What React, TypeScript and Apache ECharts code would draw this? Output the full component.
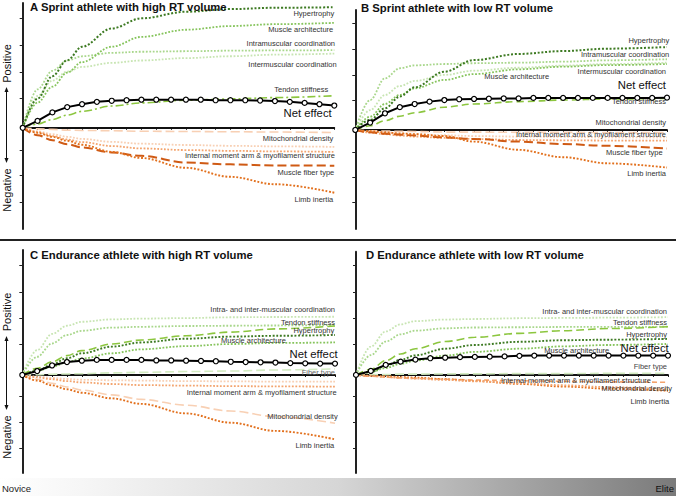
import React, { useEffect, useRef } from "react";
import * as echarts from "echarts";

// ---------- data ----------
const X_SPARSE = [0, 1, 2, 3, 4, 6, 8, 11, 14, 17, 21];
const X_NET = [0, 1, 2, 3, 4, 5, 6, 7, 8, 9, 10, 11, 12, 13, 14, 15, 16, 17, 18, 19, 20, 21];

// A Sprint athlete with high RT volume
const A_HYPERTROPHY = [0, 11.0, 19.5, 25.5, 30.6, 37.5, 41.3, 43.8, 44.8, 45.3, 45.5];
const A_MUSCLE_ARCH = [0, 9.5, 15.5, 20.8, 24.8, 30.6, 34.3, 37.0, 38.4, 39.1, 39.6];
const A_INTRA = [0, 14.5, 21.5, 25.4, 27.0, 28.3, 28.7, 28.9, 29.1, 29.2, 29.3];
const A_INTER = [0, 12.0, 17.8, 21.2, 23.0, 24.5, 25.4, 26.3, 27.0, 27.6, 28.0];
const A_TENDON = [0, 1.4, 3.1, 4.8, 6.2, 8.2, 9.4, 10.4, 10.9, 11.4, 12.1];
const A_NET = [0, 2.6, 5.8, 7.8, 8.9, 9.8, 10.2, 10.4, 10.6, 10.6, 10.6, 10.6, 10.6, 10.4, 10.4, 10.4, 10.3, 10.1, 9.8, 9.4, 8.9, 8.4];
const A_MITO = [0, -0.4, -0.6, -0.9, -1.0, -1.1, -1.3, -1.4, -1.5, -1.6, -1.8];
const A_MOMENT1 = [0, -1.3, -2.4, -3.4, -4.2, -5.3, -6.0, -6.5, -6.8, -7.0, -7.2];
const A_MOMENT2 = [0, -1.6, -3.1, -4.4, -5.4, -6.9, -7.8, -8.4, -8.7, -8.9, -9.1];
const A_FIBER = [0, -2.8, -4.7, -6.2, -7.4, -9.3, -10.6, -13.1, -13.8, -14.2, -14.3];
const A_LIMB = [0, -1.9, -3.4, -4.9, -6.4, -9.1, -11.4, -15.1, -18.5, -21.3, -24.5];

// B Sprint athlete with low RT volume
const B_HYPERTROPHY = [0, 3.8, 8.2, 12.6, 16.1, 22.0, 26.4, 28.7, 29.8, 30.7, 31.3];
const B_INTRA = [0, 11.3, 19.5, 23.3, 24.4, 24.9, 25.2, 25.4, 25.8, 26.3, 26.7];
const B_INTER = [0, 7.5, 13.2, 16.6, 18.5, 20.8, 22.4, 23.5, 24.3, 24.9, 25.4];
const B_MUSCLE_ARCH = [0, 5.0, 9.8, 13.2, 15.7, 18.9, 21.1, 22.9, 23.9, 24.5, 24.9];
const B_TENDON = [0, 1.6, 3.5, 5.2, 6.5, 8.6, 9.8, 10.7, 11.3, 11.7, 11.9];
const B_NET = [0, 2.8, 6.3, 8.6, 9.8, 10.7, 11.3, 11.6, 11.7, 11.8, 11.9, 11.9, 12.1, 12.1, 12.1, 12.1, 12.1, 12.1, 12.1, 12.1, 12.1, 12.2];
const B_MITO = [0, -0.3, -0.4, -0.5, -0.6, -0.8, -0.8, -0.9, -0.9, -1.0, -1.0];
const B_MOMENT1 = [0, -1.0, -1.6, -2.1, -2.5, -3.0, -3.4, -3.8, -3.9, -4.0, -4.0];
const B_MOMENT2 = [0, -0.6, -1.0, -1.4, -1.6, -2.0, -2.3, -2.5, -2.6, -2.8, -2.8];
const B_FIBER = [0, -0.9, -1.4, -1.8, -2.1, -2.8, -3.4, -4.4, -5.3, -6.0, -7.0];
const B_LIMB = [0, -0.5, -0.9, -1.3, -1.6, -2.3, -4.4, -7.5, -10.3, -12.6, -14.2];

// C Endurance athlete with high RT volume
const C_COORD = [0, 9.4, 15.5, 18.6, 20.1, 21.0, 21.3, 21.5, 21.8, 21.9, 22.0];
const C_COORD2 = [0, 6.9, 11.9, 15.1, 16.7, 17.9, 18.2, 18.5, 18.6, 18.7, 18.9];
const C_TENDON = [0, 2.5, 5.0, 7.3, 9.2, 11.7, 13.2, 14.8, 16.2, 17.4, 18.5];
const C_HYPERTROPHY = [0, 1.6, 4.0, 6.3, 8.2, 10.7, 12.3, 13.7, 14.5, 14.8, 15.1];
const C_MUSCLE_ARCH = [0, 1.5, 3.1, 4.8, 6.2, 8.2, 9.7, 10.9, 11.7, 12.1, 12.3];
const C_NET = [0, 1.5, 3.6, 4.9, 5.4, 5.7, 5.7, 5.7, 5.7, 5.5, 5.5, 5.4, 5.3, 5.2, 5.0, 4.9, 4.8, 4.7, 4.5, 4.4, 4.3, 4.3];
const C_FIBER = [0, 0.1, 0.3, 0.4, 0.5, 0.8, 1.0, 1.3, 1.5, 1.9, 2.3];
const C_MOMENT1 = [0, -0.6, -1.1, -1.5, -1.8, -2.0, -2.1, -2.3, -2.4, -2.5, -2.5];
const C_MOMENT2 = [0, -0.9, -1.6, -2.3, -2.8, -3.4, -3.8, -4.0, -4.2, -4.3, -4.4];
const C_MITO = [0, -1.6, -3.1, -4.5, -5.7, -7.5, -9.2, -11.4, -13.6, -15.7, -18.2];
const C_LIMB = [0, -2.1, -3.9, -5.4, -6.7, -8.8, -10.9, -14.5, -18.0, -21.1, -24.3];

// D Endurance athlete with low RT volume
const D_COORD = [0, 10.7, 16.4, 19.1, 20.3, 20.9, 21.1, 21.4, 21.5, 21.6, 21.8];
const D_COORD2 = [0, 7.5, 12.6, 15.3, 16.7, 17.6, 17.9, 18.0, 18.1, 18.1, 18.2];
const D_TENDON = [0, 2.1, 5.4, 7.9, 9.9, 12.6, 14.2, 15.7, 16.7, 17.5, 18.2];
const D_HYPERTROPHY = [0, 1.1, 3.4, 5.7, 7.4, 9.9, 11.3, 12.5, 13.1, 13.3, 13.6];
const D_MUSCLE_ARCH = [0, 1.1, 2.6, 4.2, 5.4, 7.3, 8.7, 9.9, 10.8, 11.3, 11.7];
const D_NET = [0, 1.5, 3.8, 5.0, 5.8, 6.3, 6.5, 6.7, 6.8, 6.9, 7.0, 7.2, 7.3, 7.3, 7.3, 7.3, 7.3, 7.3, 7.3, 7.3, 7.3, 7.3];
const D_FIBER = [0, 0.1, 0.1, 0.3, 0.3, 0.4, 0.4, 0.5, 0.5, 0.6, 0.6];
const D_MOMENT = [0, -0.5, -0.8, -1.1, -1.3, -1.6, -1.9, -2.2, -2.4, -2.6, -2.8];
const D_MITO = [0, -0.3, -0.5, -0.8, -1.0, -1.6, -2.3, -3.4, -4.4, -5.2, -6.0];
const D_LIMB = [0, -0.4, -0.8, -1.1, -1.4, -1.9, -2.4, -3.1, -3.9, -4.6, -5.4];

const TITLES = [
  "A Sprint athlete with high RT volume",
  "B Sprint athlete with low RT volume",
  "C Endurance athlete with high RT volume",
  "D Endurance athlete with low RT volume",
];

// ---------- styles ----------
const DG = "#3d7a22";
const MG = "#86c45c";
const LG = "#a9d78c";
const VLG = "#c8e5b3";
const TG = "#8cc63f";
const FG = "#d3ebc2";
const DO = "#cf5a14";
const OR = "#e2701d";
const LO = "#f3a46e";
const VLO = "#f8d0b4";

const dotted = (color, width = 1.8) => ({ color, width, type: [width, width * 0.9], cap: "butt" });
const dashed = (color, width = 1.6, d = [8, 4]) => ({ color, width, type: d, cap: "butt" });

const FONT = "'Liberation Sans', Arial, sans-serif";

function curve(panel, vals, lineStyle, z = 3) {
  return {
    type: "line",
    xAxisIndex: panel,
    yAxisIndex: panel,
    data: X_SPARSE.map((x, i) => [x, vals[i]]),
    smooth: 0.35,
    smoothMonotone: "x",
    showSymbol: false,
    symbol: "none",
    lineStyle,
    z,
    silent: true,
  };
}
function net(panel, vals) {
  return {
    type: "line",
    xAxisIndex: panel,
    yAxisIndex: panel,
    data: X_NET.map((x, i) => [x, vals[i]]),
    symbol: "circle",
    symbolSize: 5,
    showSymbol: true,
    itemStyle: { color: "#fff", borderColor: "#000", borderWidth: 1.2 },
    lineStyle: { color: "#000", width: 2 },
    z: 10,
    silent: true,
  };
}

const GRIDS = [
  { left: 22.7, top: 3, width: 311.6, height: 226, min: -38.2, max: 47.1, ticks: [41.3, 31.2, 21.1, 11.0, -8.4, -17.8, -28.0] },
  { left: 355.3, top: 10, width: 311.7, height: 219, min: -37.4, max: 45.3, ticks: [40.4, 30.6, 20.8, 11.3, -8.3, -17.7, -27.2] },
  { left: 22.3, top: 250, width: 312.7, height: 223, min: -37.0, max: 47.2, ticks: [41.5, 31.3, 21.5, 11.7, -7.9, -17.7, -27.5] },
  { left: 356, top: 251.7, width: 312, height: 221.3, min: -37.0, max: 46.5, ticks: [41.5, 31.3, 21.5, 11.7, -7.9, -17.7, -27.5] },
];

const LABELS = [
  // [text, right x, center y, size, color]
  ["Hypertrophy", 334.3, 13.3], ["Muscle architecture", 333.3, 29.5], ["Intramuscular coordination", 335, 43.5],
  ["Intermuscular coordination", 336.7, 64], ["Tendon stiffness", 328.3, 89.3], ["Net effect", 331.7, 113.3, 11.3, "#111"],
  ["Mitochondrial density", 333.3, 138.3], ["Internal moment arm & myofilament structure", 335, 155],
  ["Muscle fiber type", 334.3, 172.3], ["Limb inertia", 333.3, 199.3],

  ["Hypertrophy", 669.3, 40.7], ["Intramuscular coordination", 669.3, 54.3], ["Muscle architecture", 549.3, 76],
  ["Intermuscular coordination", 666, 71], ["Net effect", 666, 85, 11.3, "#111"], ["Tendon stiffness", 666, 101.7],
  ["Mitochondrial density", 666, 122.7], ["Internal moment arm & myofilament structure", 666, 134],
  ["Muscle fiber type", 662.7, 152.7], ["Limb inertia", 666, 173.3],

  ["Intra- and inter-muscular coordination", 335, 309.3], ["Tendon stiffness", 335, 322.3], ["Hypertrophy", 334.3, 330],
  ["Muscle architecture", 286, 340], ["Net effect", 337.7, 354.3, 11.3, "#111"], ["Fiber type", 335, 372.7, 7.5, "#666"],
  ["Internal moment arm & myofilament structure", 336.7, 392.7], ["Mitochondrial density", 337.7, 416], ["Limb inertia", 334.3, 445.3],

  ["Intra- and inter-muscular coordination", 667, 311.7], ["Tendon stiffness", 667, 322.7], ["Hypertrophy", 667, 334.3],
  ["Muscle architecture", 609.3, 350], ["Net effect", 668.7, 348.3, 11.3, "#111"], ["Fiber type", 667, 366, 7.5, "#444"],
  ["Internal moment arm & myofilament structure", 651, 380.3], ["Mitochondrial density", 672, 388.5], ["Limb inertia", 669.3, 401.5],
];

function txt(text, x, y, size, color, align = "left", weight = "normal", extra = {}) {
  return {
    type: "text",
    silent: true,
    z: 50,
    ...extra,
    style: {
      text,
      x: extra.rotation !== undefined ? 0 : x,
      y: extra.rotation !== undefined ? 0 : y,
      fill: color,
      fontSize: size,
      fontFamily: FONT,
      fontWeight: weight,
      align,
      textAlign: align,
      verticalAlign: "middle",
      textVerticalAlign: "middle",
    },
  };
}

function arrow(x, y1, y2) {
  return [
    { type: "line", silent: true, z: 50, shape: { x1: x, y1: y1 + 3, x2: x, y2: y2 - 3 }, style: { stroke: "#111", lineWidth: 1 } },
    { type: "polygon", silent: true, z: 50, shape: { points: [[x, y1], [x - 2, y1 + 5], [x + 2, y1 + 5]] }, style: { fill: "#111" } },
    { type: "polygon", silent: true, z: 50, shape: { points: [[x, y2], [x - 2, y2 - 5], [x + 2, y2 - 5]] }, style: { fill: "#111" } },
  ];
}

export default function App() {
  const ref = useRef(null);
  useEffect(() => {
    const chart = echarts.init(ref.current, null, { renderer: "svg" });

    const series = [
      curve(0, A_INTER, dotted(VLG)), curve(0, A_INTRA, dotted(LG)), curve(0, A_MUSCLE_ARCH, dotted(MG)),
      curve(0, A_HYPERTROPHY, dotted(DG, 2)), curve(0, A_TENDON, dashed(TG, 1.6, [8, 3, 2, 3])),
      curve(0, A_MITO, dashed(VLO, 1.6, [9, 4])), curve(0, A_MOMENT1, dotted(VLO)), curve(0, A_MOMENT2, dotted(LO)),
      curve(0, A_FIBER, dashed(DO, 2, [9, 4])), curve(0, A_LIMB, dotted(OR, 1.9)), net(0, A_NET),

      curve(1, B_INTER, dotted(VLG)), curve(1, B_INTRA, dotted(LG)), curve(1, B_MUSCLE_ARCH, dotted(MG)),
      curve(1, B_HYPERTROPHY, dotted(DG, 2)), curve(1, B_TENDON, dashed(TG, 1.6, [7, 4])),
      curve(1, B_MITO, dashed(VLO, 1.6, [9, 4])), curve(1, B_MOMENT1, dotted(LO)), curve(1, B_MOMENT2, dotted(VLO)),
      curve(1, B_FIBER, dashed(DO, 2, [9, 4])), curve(1, B_LIMB, dotted(OR, 1.9)), net(1, B_NET),

      curve(2, C_COORD, dotted(VLG)), curve(2, C_COORD2, dotted(LG)), curve(2, C_MUSCLE_ARCH, dotted(MG)),
      curve(2, C_HYPERTROPHY, dotted(DG, 1.9)), curve(2, C_TENDON, dashed(TG, 1.6, [8, 4])),
      curve(2, C_FIBER, dashed(FG, 1.6, [9, 4])), curve(2, C_MOMENT1, dotted(VLO)), curve(2, C_MOMENT2, dotted(LO)),
      curve(2, C_MITO, dashed(VLO, 1.6, [9, 4])), curve(2, C_LIMB, dotted(OR, 1.9)), net(2, C_NET),

      curve(3, D_COORD, dotted(VLG)), curve(3, D_COORD2, dotted(LG)), curve(3, D_MUSCLE_ARCH, dotted(MG)),
      curve(3, D_HYPERTROPHY, dotted(DG, 1.9)), curve(3, D_TENDON, dashed(TG, 1.6, [8, 4])),
      curve(3, D_FIBER, dashed(FG, 1.6, [9, 4])), curve(3, D_MOMENT, dashed(LO, 1.6, [5, 3])),
      curve(3, D_MITO, dotted(OR, 1.8)), curve(3, D_LIMB, dotted(LO, 1.8)), net(3, D_NET),
    ];

    const graphic = [];
    // titles
    graphic.push(txt(TITLES[0], 30, 6.5, 11.3, "#111", "left", "bold"));
    graphic.push(txt(TITLES[1], 361, 7.5, 11.3, "#111", "left", "bold"));
    graphic.push(txt(TITLES[2], 30, 255, 11.3, "#111", "left", "bold"));
    graphic.push(txt(TITLES[3], 366, 255, 11.3, "#111", "left", "bold"));
    // curve labels
    LABELS.forEach((l) => {
      graphic.push(txt(l[0], l[1], l[2], l[3] || 7.5, l[4] || "#333", "right"));
    });
    // Positive / Negative
    const rot = (text, x, y) => txt(text, x, y, 11, "#111", "center", "normal", { x, y, rotation: Math.PI / 2 });
    graphic.push(rot("Positive", 6.5, 63.5));
    graphic.push(rot("Negative", 6.5, 190));
    graphic.push(...arrow(6.5, 87, 163));
    graphic.push(rot("Positive", 6.5, 312));
    graphic.push(rot("Negative", 6.5, 437));
    graphic.push(...arrow(6.5, 336, 410));
    // separator
    graphic.push({ type: "line", silent: true, shape: { x1: 0, y1: 240, x2: 676, y2: 240 }, style: { stroke: "#222", lineWidth: 2 } });
    // bottom bar
    graphic.push({
      type: "rect",
      silent: true,
      z: 1,
      shape: { x: 0, y: 478, width: 676, height: 18 },
      style: {
        fill: {
          type: "linear", x: 0, y: 0, x2: 1, y2: 0,
          colorStops: [
            { offset: 0, color: "#ffffff" },
            { offset: 0.12, color: "#f6f6f6" },
            { offset: 0.5, color: "#d6d6d6" },
            { offset: 1, color: "#7a7a7a" },
          ],
        },
      },
    });
    graphic.push(txt("Novice", 2, 488, 9.5, "#222", "left"));
    graphic.push(txt("Elite", 674, 488, 9.5, "#111", "right"));

    chart.setOption({
      animation: false,
      grid: GRIDS.map((g) => ({ left: g.left, top: g.top, width: g.width, height: g.height, containLabel: false })),
      xAxis: GRIDS.map((g, i) => ({
        type: "value",
        gridIndex: i,
        min: 0,
        max: 21,
        interval: 1,
        axisLine: { show: true, onZero: true, lineStyle: { color: "#111", width: 1.8 } },
        axisTick: { show: true, length: 2, lineStyle: { color: "#111", width: 1 } },
        axisLabel: { show: false },
        splitLine: { show: false },
      })),
      yAxis: GRIDS.map((g, i) => ({
        type: "value",
        gridIndex: i,
        min: g.min,
        max: g.max,
        axisLine: { show: true, onZero: false, lineStyle: { color: "#222", width: 2 } },
        axisTick: { show: true, length: 3, customValues: g.ticks, lineStyle: { color: "#222", width: 1 } },
        axisLabel: { show: false },
        splitLine: { show: false },
      })),
      series,
      graphic,
    });
    return () => chart.dispose();
  }, []);
  return (
    <div
      ref={ref}
      style={{ position: "fixed", left: 0, top: 0, width: 676, height: 496, background: "#fff" }}
    />
  );
}
